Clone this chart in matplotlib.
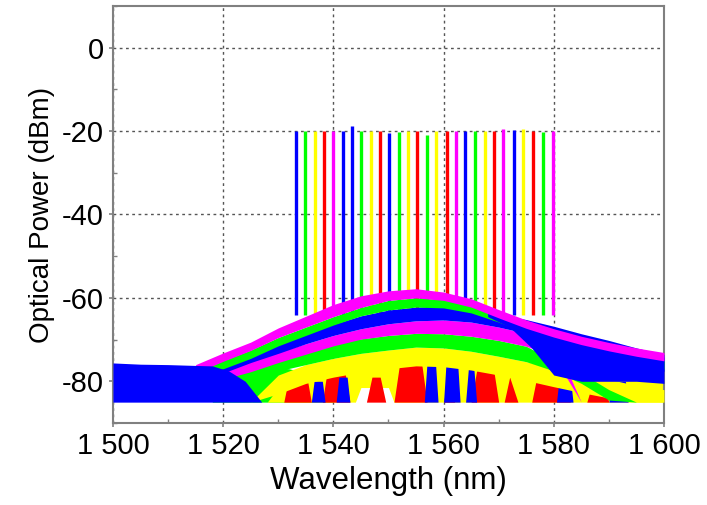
import matplotlib
matplotlib.use("Agg")
import matplotlib.pyplot as plt
from matplotlib.ticker import MultipleLocator

plt.rcParams['font.family'] = ['Liberation Sans', 'DejaVu Sans']

BLUE, GREEN, YELLOW, RED, MAGENTA = '#0000ff', '#00ff00', '#ffff00', '#ff0000', '#ff00ff'

# ---- laser lines (wavelength nm, peak power dBm, colour)
peak_wl = [1533.2, 1534.8, 1536.7, 1538.3, 1540.0, 1541.8, 1543.3, 1545.0, 1546.8, 1548.5,
           1550.1, 1551.9, 1553.6, 1555.2, 1557.0, 1558.7, 1560.6, 1562.2, 1563.9, 1565.7,
           1567.5, 1569.2, 1570.8, 1572.7, 1574.4, 1576.3, 1578.0, 1579.9]
peak_dbm = [-20.0, -20.0, -20.0, -20.0, -20.0, -20.0, -18.8, -20.0, -20.0, -20.0,
            -20.5, -20.2, -20.0, -20.0, -21.0, -20.0, -20.0, -20.0, -20.0, -20.0,
            -20.0, -20.0, -19.5, -19.8, -19.4, -20.0, -20.2, -20.0]
peak_col = ['b', 'g', 'y', 'r', 'm', 'b', 'b', 'g', 'y', 'r',
            'b', 'g', 'y', 'r', 'g', 'y', 'r', 'm', 'b', 'g',
            'y', 'r', 'm', 'b', 'y', 'r', 'g', 'm']
peak_base = -64.0

# ---- ASE humps (top envelopes, dBm), listed from the highest trace down
hump_x = [1515, 1520, 1525, 1530, 1535, 1540, 1545, 1550, 1555, 1560,
          1565, 1570, 1575, 1580, 1585, 1590, 1595, 1600]
mag1 = [-76.0, -73.2, -70.6, -67.2, -64.4, -61.6, -59.5, -58.3, -57.8, -58.6,
        -60.2, -62.8, -65.3, -67.4, -69.2, -70.7, -72.0, -73.1]
green1 = [-77.0, -75.0, -72.5, -69.5, -67.0, -64.5, -62.3, -60.6, -60.0, -60.4,
          -61.6, -63.8, -66.3, -68.8, -70.8, -72.5, -74.0, -75.0]
blue1 = [-77.0, -75.5, -73.0, -70.8, -68.5, -66.3, -64.3, -62.9, -62.2, -62.0,
         -62.6, -63.8, -65.2, -66.8, -68.6, -70.2, -72.0, -73.6]
mag2 = [-78.0, -77.0, -75.2, -73.0, -71.0, -69.0, -67.4, -66.2, -65.5, -65.3,
        -65.8, -67.0, -68.5, -70.0, -86.0, -88.0, -90.0, -90.0]
green2 = [-79.0, -77.5, -75.5, -73.5, -72.0, -70.8, -69.8, -69.0, -68.5, -68.6,
          -69.2, -70.2, -71.6, -75.0, -78.0, -82.0, -86.0, -88.0]
yellow1 = [-90.0, -90.0, -86.0, -78.5, -76.0, -74.5, -73.3, -72.5, -71.8, -72.0,
           -72.8, -74.0, -75.3, -76.8, -78.2, -79.5, -81.0, -82.0]

# ---- noise-floor regions (top envelopes, dBm)
floor_bottom = -85.0
blue_left_x = [1500, 1505, 1510, 1515, 1518, 1521, 1524, 1527]
blue_left_top = [-75.6, -75.9, -76.0, -76.2, -76.3, -77.5, -80.0, -85.0]
green_left_x = [1518, 1520, 1524, 1528, 1532, 1536, 1540]
green_left_top = [-85.0, -78.0, -77.0, -76.5, -77.0, -78.5, -85.0]
yellow_mid_x = [1528, 1532, 1536, 1540, 1544, 1545, 1550, 1551, 1555, 1560, 1565, 1570,
                1575, 1580, 1585, 1590, 1595, 1600]
yellow_mid_top = [-85.0, -78.0, -76.0, -75.0, -74.5, -74.5, -74.0, -74.0, -73.5, -74.0,
                  -74.5, -75.0, -76.0, -77.0, -78.0, -79.0, -79.5, -80.0]
yellow_mid_bot = [-85.0, -85.0, -85.0, -85.0, -85.0, -81.5, -81.5, -85.0, -85.0, -85.0,
                  -85.0, -85.0, -85.0, -85.0, -85.0, -85.0, -85.0, -85.0]
red_mid_x = [1531, 1532, 1535, 1536, 1538, 1539, 1542, 1543, 1546, 1547, 1548.5, 1549.5,
             1551, 1552, 1556, 1557, 1560, 1561, 1562, 1565, 1566, 1569, 1570,
             1571, 1572, 1573.5, 1576, 1577, 1582, 1583, 1586, 1587, 1589, 1590]
red_mid_top = [-85.0, -78.5, -77.5, -85.0, -85.0, -76.5, -77.0, -85.0, -85.0, -79.0, -79.0,
               -85.0, -85.0, -76.0, -75.5, -85.0, -85.0, -78.0, -85.0, -85.0, -77.5, -76.5,
               -85.0, -85.0, -79.0, -85.0, -85.0, -78.5, -77.5, -85.0, -85.0, -80.5, -80.5,
               -85.0]
blue_spk_x = [1536.0, 1536.5, 1538.0, 1538.5,
              1540.5, 1541.0, 1542.5, 1543.0,
              1556.5, 1557.0, 1558.5, 1559.0,
              1560.0, 1560.5, 1562.5, 1563.0,
              1564.0, 1564.5, 1565.5, 1566.0,
              1580.5, 1581.0, 1583.0, 1583.5,
              1590.0, 1590.5, 1593.0, 1593.5]
blue_spk_top = [-85.0, -80.0, -80.0, -85.0,
                -85.0, -79.0, -79.0, -85.0,
                -85.0, -75.5, -75.0, -85.0,
                -85.0, -74.5, -74.5, -85.0,
                -85.0, -77.0, -77.0, -85.0,
                -85.0, -79.0, -79.0, -85.0,
                -85.0, -80.0, -80.0, -85.0]
blue_right_x = [1568, 1572, 1576, 1580, 1585, 1590, 1595, 1600]
blue_right_top = [-63.5, -64.5, -66.0, -68.0, -70.0, -71.5, -73.0, -74.2]
blue_right_bot = [-64.5, -67.0, -72.0, -78.5, -80.0, -80.0, -80.0, -80.5]

x_ticks = [1500, 1520, 1540, 1560, 1580, 1600]
x_tick_labels = ['1 500', '1 520', '1 540', '1 560', '1 580', '1 600']
y_ticks = [0, -20, -40, -60, -80]
y_tick_labels = ['0', '-20', '-40', '-60', '-80']

cmap = {'b': BLUE, 'g': GREEN, 'y': YELLOW, 'r': RED, 'm': MAGENTA}

fig = plt.figure(figsize=(7.07, 5.05), dpi=100)
ax = fig.add_axes([0.1598, 0.1624, 0.7793, 0.8257])


def band(xs, lo, hi, col, z):
    lo_c = [max(v, floor_bottom) for v in lo]
    hi_c = [max(v, floor_bottom) for v in hi]
    ax.fill_between(xs, lo_c, hi_c, color=col, lw=0, zorder=z)


# floor
band(green_left_x, [floor_bottom] * len(green_left_x), green_left_top, GREEN, 2)
band(yellow_mid_x, yellow_mid_bot, yellow_mid_top, YELLOW, 2.05)
band(red_mid_x, [floor_bottom] * len(red_mid_x), red_mid_top, RED, 2.1)
band(blue_spk_x, [floor_bottom] * len(blue_spk_x), blue_spk_top, BLUE, 2.2)

# laser lines
ax.vlines(peak_wl, peak_base, peak_dbm, colors=[cmap[c] for c in peak_col],
          lw=2.4, zorder=3)

# humps: each band reaches down to the trace below it (thickness th .. 4 dB)
stack = [(mag1, MAGENTA, 2.0), (green1, GREEN, 2.0), (blue1, BLUE, 2.5),
         (mag2, MAGENTA, 2.5), (green2, GREEN, 2.5), (yellow1, YELLOW, 4.5)]
for i in range(len(stack) - 1, -1, -1):
    vals, col, th = stack[i]
    if i + 1 < len(stack):
        nxt = stack[i + 1][0]
        lo = [max(min(v - th, n), v - 4.0) for v, n in zip(vals, nxt)]
    else:
        lo = [v - th for v in vals]
    band(hump_x, lo, vals, col, 4 + 0.1 * (len(stack) - i))

band(blue_right_x, blue_right_bot, blue_right_top, BLUE, 4.55)
band(blue_left_x, [floor_bottom] * len(blue_left_x), blue_left_top, BLUE, 5)

ax.set_xlim(1500, 1600)
ax.set_ylim(-90, 10)
ax.set_xticks(x_ticks)
ax.set_xticklabels(x_tick_labels)
ax.set_yticks(y_ticks)
ax.set_yticklabels(y_tick_labels)
ax.xaxis.set_minor_locator(MultipleLocator(10))
ax.yaxis.set_minor_locator(MultipleLocator(10))

ax.grid(True, which='major', color='#555555', linestyle=(0, (2, 2.5)), lw=1.0, zorder=1)
ax.set_axisbelow(True)
for s in ax.spines.values():
    s.set_color('#808080')
    s.set_linewidth(1.5)
ax.tick_params(which='major', direction='out', length=3, width=1.2, color='#808080',
               labelsize=21, pad=3.5, labelcolor='black')
ax.tick_params(which='minor', direction='in', length=3, width=1.0, color='#808080')

ax.set_xlabel('Wavelength (nm)', fontsize=22.5, labelpad=4)
ax.set_ylabel('Optical Power (dBm)', fontsize=20, labelpad=5)

fig.savefig('out.png', dpi=100)
